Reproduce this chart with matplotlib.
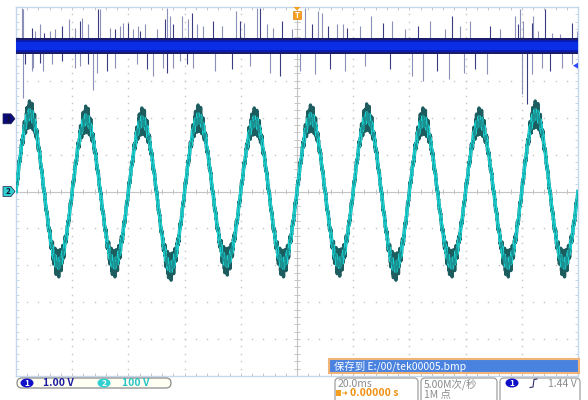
import numpy as np
import matplotlib.pyplot as plt
from matplotlib.patches import Rectangle, FancyBboxPatch, Ellipse, Polygon

plt.rcParams['font.family'] = ['Noto Sans CJK SC', 'DejaVu Sans']

# --- scope settings ---
time_per_div = 20.0          # ms
ch1_volts_per_div = 1.0      # V
ch2_volts_per_div = 100.0    # V
ch1_ground_div = 1.97        # ch1 marker position (divisions above centre)
ch2_ground_div = 0.0
trigger_level = 1.44         # V on ch1

# --- ch1: noisy DC level with spikes ---
ch1_level = 1.97
ch1_band_outer = 0.21
ch1_band_inner = 0.11
spike_up_t = [-97.9, -97.5, -94.3, -93.2, -91.5, -90.0, -87.9, -86.1, -83.6, -81.1,
              -79.0, -77.2, -76.5, -74.4, -70.8, -70.1, -66.6, -64.8, -63.0, -61.9,
              -60.1, -58.4, -56.6, -55.9, -54.1, -49.8, -47.0, -46.3, -45.2, -44.1,
              -40.9, -38.8, -37.4, -35.6, -33.5, -29.9, -26.7, -21.7, -20.3, -18.9,
              -14.2, -13.2, -10.7, -8.5, -5.3, -1.8, 2.8, 5.3, 7.5, 8.9,
              11.0, 14.2, 16.4, 17.8, 22.4, 26.3, 30.6, 33.8, 38.4, 43.1,
              47.3, 52.7, 55.2, 58.0, 61.6, 68.7, 72.2, 77.6, 78.7, 79.4,
              80.4, 83.6, 84.0, 85.8, 88.3, 90.8, 93.6, 97.9, 99.7]
spike_up_v = [3.0, 2.97, 2.46, 2.38, 2.57, 2.32, 2.38, 2.43, 2.51, 2.70,
              2.46, 2.65, 2.73, 2.57, 2.97, 2.97, 2.46, 2.43, 2.51, 2.59,
              2.59, 2.43, 2.51, 2.38, 2.57, 2.43, 2.70, 3.0, 2.78, 2.57,
              2.78, 2.70, 2.86, 2.57, 2.51, 2.65, 2.51, 2.92, 2.65, 2.59,
              3.0, 3.0, 2.57, 2.46, 2.65, 2.43, 3.0, 2.57, 2.92, 2.86,
              2.51, 2.57, 2.57, 2.46, 2.51, 2.78, 2.59, 2.65, 2.43, 2.51,
              2.65, 2.43, 2.78, 2.51, 2.65, 2.51, 2.43, 2.78, 2.57, 2.97,
              2.65, 2.59, 2.78, 2.38, 2.97, 2.32, 2.30, 2.59, 2.38]
spike_dn_t = [-97.5, -96.8, -94.3, -94.0, -91.5, -90.4, -87.2, -83.6, -79.0, -77.2,
              -74.4, -72.6, -71.2, -67.6, -64.8, -56.9, -53.4, -51.2, -47.7, -46.3,
              -44.1, -41.6, -39.1, -37.0, -29.2, -23.1, -16.7, -9.6, -6.0, 1.1,
              6.4, 11.7, 17.1, 24.2, 33.1, 40.9, 44.8, 49.8, 54.1, 59.4,
              63.3, 67.6, 80.1, 81.9, 83.6, 87.2, 90.0, 94.3, 97.9]
spike_dn_v = [0.57, 1.49, 1.30, 1.38, 1.51, 1.30, 1.49, 1.57, 1.38, 1.43,
              1.49, 0.78, 1.24, 1.30, 1.38, 1.49, 1.35, 1.16, 1.38, 1.24,
              1.38, 1.57, 1.49, 1.38, 1.30, 1.35, 1.43, 1.24, 1.16, 1.30,
              1.22, 1.35, 1.30, 1.43, 1.35, 1.16, 1.03, 1.30, 1.08, 1.24,
              1.35, 1.22, 0.68, 0.41, 1.22, 1.38, 1.30, 1.38, 1.49]

# --- ch2: 50 Hz mains with ripple ---
ch2_freq = 50.0  # Hz
ch2_peak_tips = [246, 232, 227, 235, 227, 235, 238, 227, 227, 246]        # V, per cycle
ch2_trough_tips = [-232, -232, -241, -227, -232, -230, -241, -232, -232, -232]
ripple_shape = [0.0, 0.7, 0.2, 1.0, -0.3, 0.45, -0.8, -0.2, -1.0, 0.1, -0.55]
ripples_per_cycle = 22
ripple_base = 0.10     # div
ripple_peak = 0.26     # div (extra at crest)

fig = plt.figure(figsize=(5.88, 4.0), dpi=100)
ax = fig.add_axes([16 / 588, 24 / 400, 562 / 588, 369 / 400])
ax.set_xlim(-5 * time_per_div, 5 * time_per_div)
ax.set_ylim(-5, 5)
ax.set_xticks([])
ax.set_yticks([])
for s in ax.spines.values():
    s.set_color('#c4d6ea')
    s.set_linewidth(1.0)

# graticule
grid_c = '#c4c4c4'
major_t = np.arange(-4, 5) * time_per_div
major_y = np.arange(-4, 5)
minor_t = np.arange(-25, 26) * time_per_div / 5
minor_y = np.arange(-25, 26) / 5
for mt in major_t:
    if mt != 0:
        ax.plot(np.full_like(minor_y, mt), minor_y, ls='none', marker='s', ms=1.0, mew=0,
                color=grid_c, zorder=1)
for my in major_y:
    if my != 0:
        ax.plot(minor_t, np.full_like(minor_t, my), ls='none', marker='s', ms=1.0, mew=0,
                color=grid_c, zorder=1)
ax.axhline(0, color=grid_c, lw=0.8, zorder=1)
ax.axvline(0, color=grid_c, lw=0.8, zorder=1)
tick_t = time_per_div * 0.055
ax.vlines(minor_t, -0.08, 0.08, color=grid_c, lw=0.7, zorder=1)
ax.hlines(minor_y, -tick_t, tick_t, color=grid_c, lw=0.7, zorder=1)
ax.hlines(minor_y, -100, -100 + tick_t, color='#c4d6ea', lw=0.7, zorder=1)
ax.hlines(minor_y, 100 - tick_t, 100, color='#c4d6ea', lw=0.7, zorder=1)
ax.vlines(minor_t, 4.92, 5, color=grid_c, lw=0.7, zorder=1)
ax.vlines(minor_t, -5, -4.92, color=grid_c, lw=0.7, zorder=1)

# ch1 trace
def ch1_div(v):
    return ch1_ground_div + np.asarray(v) / ch1_volts_per_div

t_band = np.array([-100.0, 100.0])
ax.fill_between(t_band, ch1_div(ch1_level - ch1_band_outer), ch1_div(ch1_level + ch1_band_outer),
                color='#1a1c6a', lw=0, zorder=3)
ax.fill_between(t_band, ch1_div(ch1_level - 0.16), ch1_div(ch1_level + 0.16),
                color='#0a1cb0', lw=0, zorder=3)
ax.fill_between(t_band, ch1_div(ch1_level - ch1_band_inner), ch1_div(ch1_level + ch1_band_inner),
                color='#0a2ee6', lw=0, zorder=4)
spk_cols = ['#8a90b8', '#8a90b8', '#3a3e80']
for i, (st, sv) in enumerate(zip(spike_up_t, spike_up_v)):
    ax.vlines(st, ch1_div(ch1_level), ch1_div(sv), color=spk_cols[i % 3], lw=0.8, zorder=2)
for i, (st, sv) in enumerate(zip(spike_dn_t, spike_dn_v)):
    ax.vlines(st, ch1_div(sv), ch1_div(ch1_level), color=spk_cols[(i + 1) % 3], lw=0.8, zorder=2)

# ch2 trace
n_cyc = len(ch2_peak_tips)
per_ripple = len(ripple_shape)
n = n_cyc * ripples_per_cycle * per_ripple
period_ms = 1000.0 / ch2_freq
t2 = -5 * time_per_div + np.arange(n + 1) * (period_ms / (ripples_per_cycle * per_ripple))
s2 = np.sin(2 * np.pi * ch2_freq * t2 / 1000.0)
k = np.clip(((t2 + 5 * time_per_div) // period_ms).astype(int), 0, n_cyc - 1)
crest = ripple_base + ripple_peak
pk = np.array(ch2_peak_tips) / ch2_volts_per_div - crest
tr = -np.array(ch2_trough_tips) / ch2_volts_per_div - crest
amp = np.where(s2 >= 0, pk[k], tr[k])
rip = np.resize(ripple_shape, n + 1) * (ripple_base + ripple_peak * np.abs(s2) ** 4)
v2 = ch2_ground_div + amp * s2 + rip
v2_mid = ch2_ground_div + amp * s2 + 0.35 * rip
ax.plot(t2, v2, color='#1d5e60', lw=2.4, zorder=5)
ax.plot(t2, v2_mid, color='#1ad4d4', lw=2.4, zorder=6)
ax.plot(t2, v2, color='#1d5a5c', lw=0.35, alpha=0.55, zorder=7)

# overlay in pixel units for on-screen labels
ov = fig.add_axes([0, 0, 1, 1], zorder=10)
ov.set_xlim(0, 588)
ov.set_ylim(400, 0)
ov.axis('off')
ov.patch.set_alpha(0)

def to_px(x, y):
    dx, dy = ax.transData.transform((x, y))
    return dx, 400 - dy

# channel ground markers
for lvl, fc, lab in [(ch1_ground_div, '#0a0a78', '1'), (ch2_ground_div, '#2ed0d0', '2')]:
    _, py = to_px(0, lvl)
    ov.add_patch(Polygon([[3, py - 5], [11, py - 5], [15, py], [11, py + 5], [3, py + 5]],
                         closed=True, fc=fc, ec='#202050', lw=0.5))
    ov.text(8, py + 0.5, lab, fontsize=6, fontweight='bold', color='#101030', ha='center', va='center')

# trigger position marker
px0, _ = to_px(0, 0)
ov.add_patch(Polygon([[px0 - 3.5, 7], [px0 + 3.5, 7], [px0, 10.5]], closed=True, fc='#f5a020', ec='none'))
ov.add_patch(Rectangle((px0 - 4, 11), 8, 8, fc='#f5a020', ec='#e08010', lw=0.5))
ov.text(px0, 15.2, 'T', fontsize=5.5, fontweight='bold', color='white', ha='center', va='center')

# trigger level marker
_, py_trig = to_px(0, ch1_div(trigger_level))
ov.add_patch(Polygon([[573, py_trig], [578, py_trig - 3], [578, py_trig + 3]], closed=True, fc='#2a4cff', ec='none'))

# save banner
ov.add_patch(Rectangle((329, 359), 250, 14, fc='#4a82e0', ec='#f0b478', lw=1.5))
ov.text(334, 366.5, '保存到 E:/00/tek00005.bmp', fontsize=7.5, color='white', va='center')

# channel scale box
ov.add_patch(FancyBboxPatch((17, 378), 154, 10, boxstyle='round,pad=0,rounding_size=5',
                            fc='#fffff4', ec='#8a8a8a', lw=0.9))
ov.add_patch(Ellipse((27, 383), 13, 9, fc='#1010c8', ec='none'))
ov.text(27, 383.3, '1', fontsize=6, fontweight='bold', color='white', ha='center', va='center')
ov.text(43, 383.3, '1.00 V', fontsize=7.5, color='#1c1ca0', va='center', fontweight='bold')
ov.add_patch(Ellipse((104, 383), 13, 9, fc='#30d0d0', ec='none'))
ov.text(104, 383.3, '2', fontsize=6, fontweight='bold', color='white', ha='center', va='center')
ov.text(122, 383.3, '100 V', fontsize=7.5, color='#28c4c4', va='center', fontweight='bold')

# horizontal / acquisition / trigger boxes
for x0, w in [(335, 83), (421, 76), (500, 80)]:
    ov.add_patch(FancyBboxPatch((x0, 378), w, 30, boxstyle='round,pad=0,rounding_size=4',
                                fc='white', ec='#a0a0a0', lw=0.9))
ov.text(338, 384, '20.0ms', fontsize=7.5, color='#8c8c8c', va='center')
ov.add_patch(Rectangle((336, 390), 5, 6, fc='#f5a020', ec='none'))
ov.add_patch(Polygon([[342, 393], [345.5, 393], [345.5, 391.5], [347, 393], [345.5, 394.5], [345.5, 393]],
                     closed=False, fill=False, ec='#f09010', lw=0.6))
ov.text(350, 393.5, '0.00000 s', fontsize=7.5, color='#f09010', va='center', fontweight='bold')
ov.text(424, 384, '5.00M次/秒', fontsize=7.5, color='#8c8c8c', va='center')
ov.text(424, 394, '1M 点', fontsize=7.5, color='#8c8c8c', va='center')
ov.add_patch(Ellipse((512, 383), 13, 9, fc='#1010c8', ec='none'))
ov.text(512, 383.3, '1', fontsize=6, fontweight='bold', color='white', ha='center', va='center')
ov.plot([530, 533, 534, 537], [387.5, 387, 379.5, 379], color='#30306a', lw=0.8)
ov.text(548, 384, '1.44 V', fontsize=7.5, color='#8c8c8c', va='center')

fig.savefig('out.png', dpi=100)
